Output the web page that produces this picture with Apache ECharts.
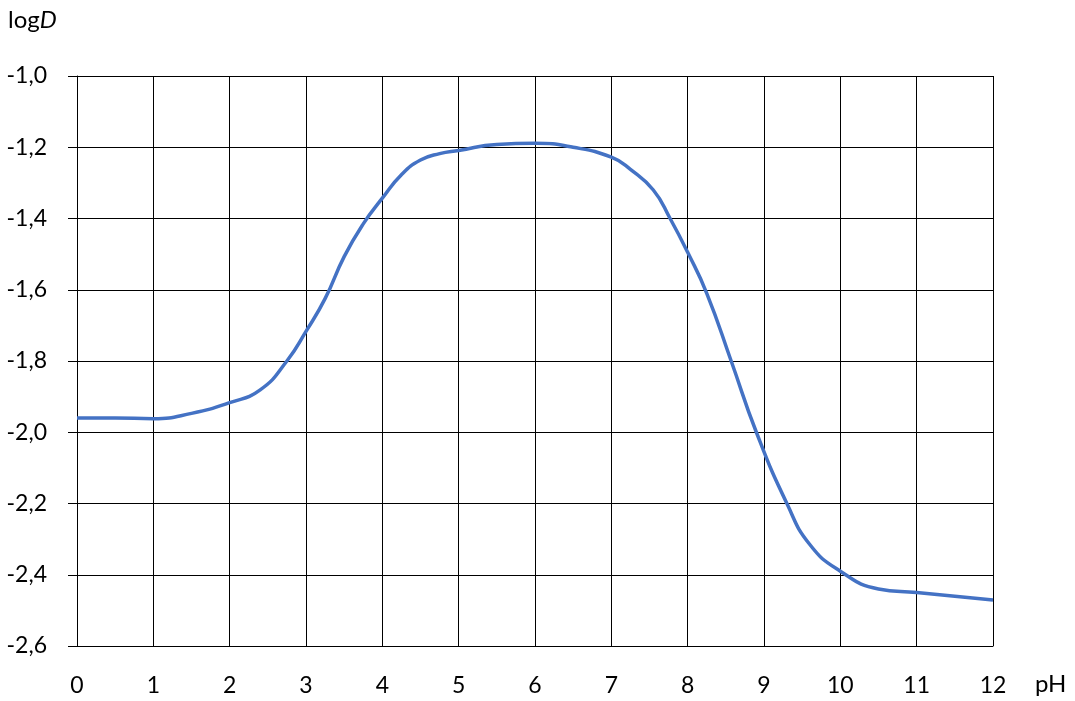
<!DOCTYPE html>
<html>
<head>
<meta charset="utf-8">
<script src="https://cdn.jsdelivr.net/npm/echarts@6/dist/echarts.min.js"></script>
<style>html,body{margin:0;padding:0;background:#fff}#c{width:1075px;height:701px}</style>
</head>
<body>
<div id="c"></div>
<script>
var pH = [0, 0.5, 1, 1.5, 2, 2.4, 2.75, 3, 3.25, 3.5, 3.75, 4, 4.25, 4.5, 4.75, 5, 5.5, 6, 6.5, 7, 7.25, 7.55, 7.77, 8, 8.25, 8.57, 8.9, 9.3, 9.6, 10, 10.5, 11, 12];
var logD = [-1.96, -1.96, -1.962, -1.947, -1.917, -1.881, -1.80, -1.717, -1.625, -1.507, -1.415, -1.343, -1.277, -1.236, -1.218, -1.209, -1.192, -1.189, -1.20, -1.228, -1.262, -1.32, -1.40, -1.495, -1.61, -1.80, -2.0, -2.20, -2.315, -2.39, -2.44, -2.45, -2.471];
var xTicks = {min: 0, max: 12, interval: 1};
var yTicks = {min: -2.6, max: -1.0, interval: 0.2};

var chart = echarts.init(document.getElementById('c'));
var font = 'Lato, "Open Sans", sans-serif';
chart.setOption({
  animation: false,
  grid: {left: 77, right: 82, top: 76, bottom: 55},
  title: {
    text: '{a|log}{b|D}',
    left: 3, top: 3,
    textStyle: {
      fontWeight: 'normal',
      rich: {
        a: {fontFamily: font, fontSize: 24, fontWeight: 'normal', color: '#000'},
        b: {fontFamily: font, fontSize: 24, fontWeight: 'normal', fontStyle: 'italic', color: '#000'}
      }
    }
  },
  graphic: [{
    type: 'text', left: 1035, top: 672,
    style: {text: 'pH', fontFamily: font, fontSize: 24, fill: '#000'}
  }],
  xAxis: {
    type: 'value', min: xTicks.min, max: xTicks.max, interval: xTicks.interval,
    axisLine: {show: true, lineStyle: {color: '#000', width: 1}},
    axisTick: {show: false},
    axisLabel: {color: '#000', fontFamily: font, fontSize: 23, margin: 28},
    splitLine: {show: true, lineStyle: {color: '#000', width: 1}}
  },
  yAxis: {
    type: 'value', min: yTicks.min, max: yTicks.max, interval: yTicks.interval,
    axisLine: {show: true, onZero: false, lineStyle: {color: '#000', width: 1}},
    axisTick: {show: true, inside: false, length: 9, lineStyle: {color: '#000'}},
    axisLabel: {color: '#000', fontFamily: font, fontSize: 23, margin: 30,
      formatter: function (v) { return v.toFixed(1).replace('.', ','); }},
    splitLine: {show: true, lineStyle: {color: '#000', width: 1}}
  },
  series: [{
    type: 'line',
    data: pH.map(function (x, i) { return [x, logD[i]]; }),
    smooth: 0.5,
    smoothConstraint: false,
    showSymbol: false,
    lineStyle: {color: '#4472C4', width: 3.5}
  }]
});
</script>
</body>
</html>
